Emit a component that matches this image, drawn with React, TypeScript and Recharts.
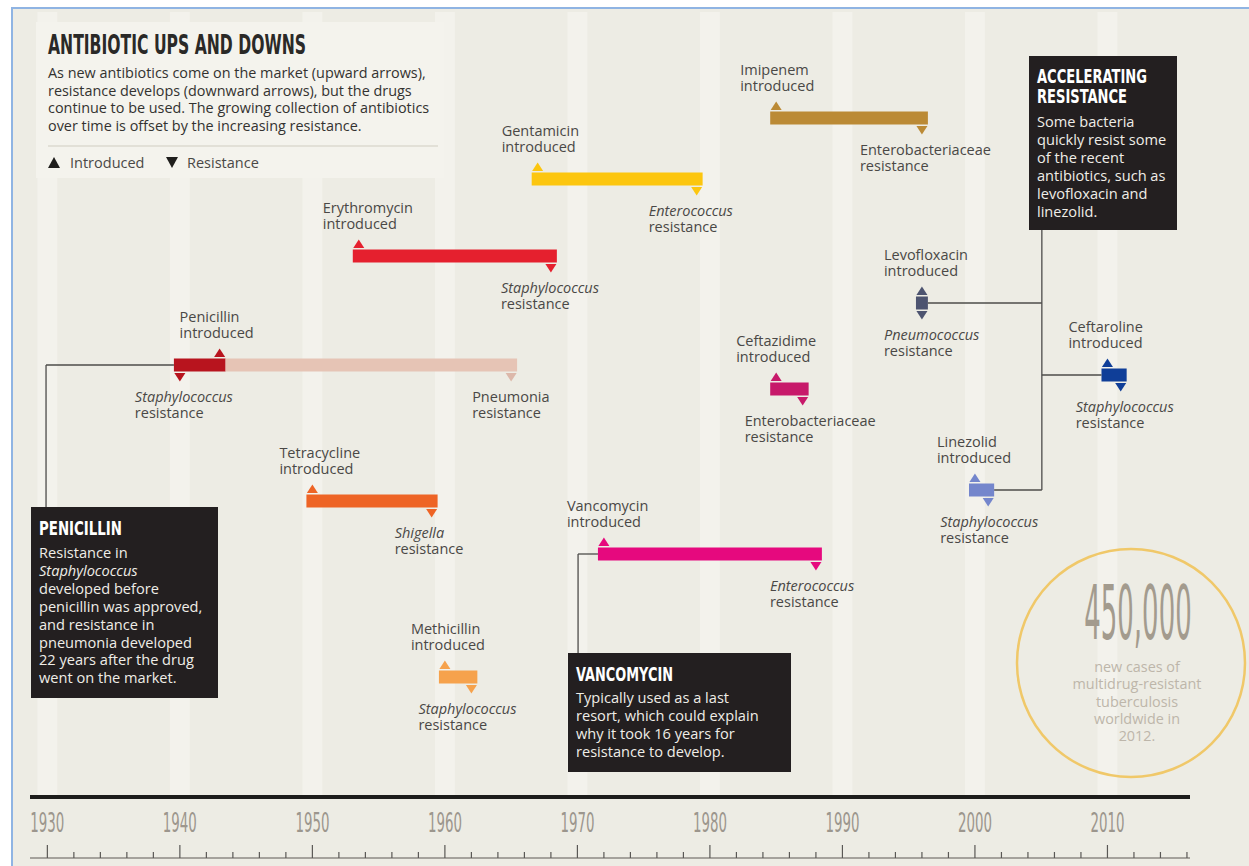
import React from 'react';
import { ComposedChart, XAxis, YAxis, Scatter, ReferenceArea, ReferenceLine } from 'recharts';

// ---- data ----
const DRUGS = ['Penicillin', 'Tetracycline', 'Erythromycin', 'Methicillin', 'Gentamicin', 'Vancomycin', 'Imipenem', 'Ceftazidime', 'Levofloxacin', 'Linezolid', 'Ceftaroline'];
const INTRODUCED = [1943, 1950, 1953.5, 1960, 1967, 1972, 1985, 1985, 1996, 2000, 2010];

const RES_DRUG = ['Penicillin', 'Penicillin', 'Tetracycline', 'Erythromycin', 'Methicillin', 'Gentamicin', 'Vancomycin', 'Imipenem', 'Ceftazidime', 'Levofloxacin', 'Linezolid', 'Ceftaroline'];
const RES_YEAR = [1940, 1965, 1959, 1968, 1962, 1979, 1988, 1996, 1987, 1996, 2001, 2011];
const RES_ORGANISM = ['Staphylococcus', 'Pneumonia', 'Shigella', 'Staphylococcus', 'Staphylococcus', 'Enterococcus', 'Enterococcus', 'Enterobacteriaceae', 'Enterobacteriaceae', 'Pneumococcus', 'Staphylococcus', 'Staphylococcus'];
const ITALIC_ORGANISMS = ['Staphylococcus', 'Shigella', 'Enterococcus', 'Pneumococcus'];

const YEAR_TICKS = [1930, 1932, 1934, 1936, 1938, 1940, 1942, 1944, 1946, 1948, 1950, 1952, 1954, 1956, 1958, 1960, 1962, 1964, 1966, 1968, 1970, 1972, 1974, 1976, 1978, 1980, 1982, 1984, 1986, 1988, 1990, 1992, 1994, 1996, 1998, 2000, 2002, 2004, 2006, 2008, 2010, 2012, 2014, 2016];
const DECADES = [1930, 1940, 1950, 1960, 1970, 1980, 1990, 2000, 2010];
// bits of the next panel peeking out under the ruler
const NEXT_PANEL_TICKS = [1940.05, 1945.1, 1959.2, 1978.1, 1995.2, 2001.3, 2006.3, 2015.7];

const DESCRIPTION = [
  'As new antibiotics come on the market (upward arrows),',
  'resistance develops (downward arrows), but the drugs',
  'continue to be used. The growing collection of antibiotics',
  'over time is offset by the increasing resistance.',
];
const PENICILLIN_NOTE = ['Resistance in', 'Staphylococcus', 'developed before', 'penicillin was approved,', 'and resistance in', 'pneumonia developed', '22 years after the drug', 'went on the market.'];
const VANCOMYCIN_NOTE = ['Typically used as a last', 'resort, which could explain', 'why it took 16 years for', 'resistance to develop.'];
const ACCEL_NOTE = ['Some bacteria', 'quickly resist some', 'of the recent', 'antibiotics, such as', 'levofloxacin and', 'linezolid.'];
const TB_NOTE = ['new cases of', 'multidrug-resistant', 'tuberculosis', 'worldwide in', '2012.'];

// ---- layout & style ----
const W = 1249;
const H = 866;
const PLOT_BOTTOM = 797;
const X_DOMAIN: [number, number] = [1928.69, 2016.23];
const PAD = 0.45;
const BAR_H = 13;
const FONT = '"Open Sans", "DejaVu Sans", sans-serif';
const COND = '"DejaVu Sans Condensed", "DejaVu Sans", sans-serif';
const LABEL = '#4a4846';
const LABEL_SIZE = 14.5;

const COLORS: Record<string, string> = {
  Penicillin: '#b8141e',
  Tetracycline: '#ee6425',
  Erythromycin: '#e5202e',
  Methicillin: '#f6a24c',
  Gentamicin: '#fcc60f',
  Vancomycin: '#e6097e',
  Imipenem: '#bb8a35',
  Ceftazidime: '#c7196a',
  Levofloxacin: '#4d5470',
  Linezolid: '#7486cc',
  Ceftaroline: '#0f3e98',
};
const FADED: Record<string, string> = { Penicillin: '#e6c4b5' };

const LANE: Record<string, number> = {
  Imipenem: 118, Gentamicin: 179, Erythromycin: 256, Levofloxacin: 303, Penicillin: 365, Ceftaroline: 375,
  Ceftazidime: 389, Linezolid: 490, Tetracycline: 501, Vancomycin: 554, Methicillin: 677,
};
const INTRO_DX: Record<string, number> = {
  Penicillin: -40, Tetracycline: -33, Erythromycin: -36, Methicillin: -34, Gentamicin: -36, Vancomycin: -37,
  Imipenem: -36, Ceftazidime: -40, Levofloxacin: -38, Linezolid: -38, Ceftaroline: -39,
};
const RES_DX = [-45, -39, -37, -50, -53, -48, -46, -62, -58, -38, -48, -45];

const introData = DRUGS.map((d, i) => ({ drug: d, year: INTRODUCED[i], lane: LANE[d] }));
const resData = RES_DRUG.map((d, i) => ({
  drug: d,
  year: RES_YEAR[i],
  lane: LANE[d],
  organism: RES_ORGANISM[i],
  dx: RES_DX[i],
  faded: i > 0 && RES_DRUG[i - 1] === d,
}));

const segments = DRUGS.flatMap((d, i) => {
  const res = RES_DRUG.map((r, j) => (r === d ? RES_YEAR[j] : null)).filter((v) => v !== null) as number[];
  const lo = Math.min(INTRODUCED[i], res[0]);
  const hi = Math.max(INTRODUCED[i], res[0]);
  const out = [{ drug: d, x1: lo - PAD, x2: hi + PAD, color: COLORS[d] }];
  if (res.length > 1) out.push({ drug: d, x1: hi + PAD, x2: res[res.length - 1] + PAD, color: FADED[d] });
  return out;
});

// connectors from the note boxes to the bars (x in years, y in lane units)
const CONNECTORS = [
  [{ x: 1929.9, y: 507 }, { x: 1929.9, y: LANE.Penicillin }],
  [{ x: 1929.9, y: LANE.Penicillin }, { x: 1940 - PAD, y: LANE.Penicillin }],
  [{ x: 1970.05, y: 653 }, { x: 1970.05, y: LANE.Vancomycin }],
  [{ x: 1970.05, y: LANE.Vancomycin }, { x: 1972 - PAD, y: LANE.Vancomycin }],
  [{ x: 2005.05, y: 230 }, { x: 2005.05, y: LANE.Linezolid }],
  [{ x: 1996 + PAD, y: LANE.Levofloxacin }, { x: 2005.05, y: LANE.Levofloxacin }],
  [{ x: 2005.05, y: LANE.Ceftaroline }, { x: 2010 - PAD, y: LANE.Ceftaroline }],
  [{ x: 2001 + PAD, y: LANE.Linezolid }, { x: 2005.05, y: LANE.Linezolid }],
];

// one <text> per block, one <tspan> per line
const Lines = ({ x, y, lines, step, italic, ...rest }: any) => (
  <text x={x} y={y} {...rest}>
    {lines.map((l: string, i: number) => (
      <tspan key={i} x={x} dy={i === 0 ? 0 : step} fontStyle={l === italic ? 'italic' : 'normal'}>{l}</tspan>
    ))}
  </text>
);

const IntroMarker = (props: any) => {
  const { cx, cy, payload } = props;
  const top = cy - BAR_H / 2 - 1.5;
  return (
    <g>
      <path d={`M${cx - 5.5},${top} L${cx + 5.5},${top} L${cx},${top - 8.5} Z`} fill={COLORS[payload.drug]} />
      <Lines x={cx + INTRO_DX[payload.drug]} y={cy - 43} step={16} lines={[payload.drug, 'introduced']}
        fontFamily={FONT} fontSize={LABEL_SIZE} fill={LABEL} />
    </g>
  );
};

const ResMarker = (props: any) => {
  const { cx, cy, payload } = props;
  const bot = cy + BAR_H / 2 + 1.5;
  const color = payload.faded ? '#dcb8aa' : COLORS[payload.drug];
  const italic = ITALIC_ORGANISMS.includes(payload.organism) ? payload.organism : undefined;
  return (
    <g>
      <path d={`M${cx - 5.5},${bot} L${cx + 5.5},${bot} L${cx},${bot + 8.5} Z`} fill={color} />
      <Lines x={cx + payload.dx} y={cy + 37} step={16} lines={[payload.organism, 'resistance']} italic={italic}
        fontFamily={FONT} fontSize={LABEL_SIZE} fill={LABEL} />
    </g>
  );
};

const YearTick = (props: any) => {
  const { x, y, payload } = props;
  const v = payload.value;
  const decade = v % 10 === 0;
  return (
    <g>
      {decade && (
        <text x={x} y={y + 35} textAnchor="middle" fontFamily={COND} fontSize={26} fill="#9c968d"
          textLength={34} lengthAdjust="spacingAndGlyphs">{v}</text>
      )}
      <line x1={x} x2={x} y1={y + (decade ? 48 : 55)} y2={y + 61} stroke="#5a5855" strokeWidth={1.2} />
    </g>
  );
};

const NextTick = (props: any) => (
  <line x1={props.x} x2={props.x} y1={props.y} y2={props.y + 9} stroke="#8c8a84" strokeWidth={1.2} />
);

const NoteBox = ({ x, y, w, h, title, lines, italic, titleWidths, titleY, bodyY }: any) => (
  <g>
    <rect x={x} y={y} width={w} height={h} fill="#231f20" />
    {title.map((t: string, i: number) => (
      <text key={t} x={x + 8} y={titleY + i * 20} fontFamily={COND} fontWeight="bold" fontSize={19} fill="#ffffff"
        textLength={titleWidths[i]} lengthAdjust="spacingAndGlyphs">{t}</text>
    ))}
    <Lines x={x + 8} y={bodyY} step={17.9} lines={lines} italic={italic} fontFamily={FONT} fontSize={14.6} fill="#efede7" />
  </g>
);

// static annotations drawn on top of the chart layers
const Annotations = () => (
  <svg width={W} height={H} style={{ position: 'absolute', left: 0, top: 0, pointerEvents: 'none' }}>
    <rect x={36} y={22} width={408} height={156} fill="#f4f3ed" />
    <text x={48} y={54} fontFamily={COND} fontWeight="bold" fontSize={26} fill="#2a2927"
      textLength={258} lengthAdjust="spacingAndGlyphs">ANTIBIOTIC UPS AND DOWNS</text>
    <Lines x={48} y={78} step={17.5} lines={DESCRIPTION} fontFamily={FONT} fontSize={14.4} fill="#333230" />
    <line x1={48} x2={438} y1={146} y2={146} stroke="#e2e0d7" strokeWidth={2} />
    <path d="M48,168 L60,168 L54,157 Z" fill="#1f1e1c" />
    <text x={70} y={168} fontFamily={FONT} fontSize={LABEL_SIZE} fill={LABEL}>Introduced</text>
    <path d="M166,157 L178,157 L172,168 Z" fill="#1f1e1c" />
    <text x={187} y={168} fontFamily={FONT} fontSize={LABEL_SIZE} fill={LABEL}>Resistance</text>

    <NoteBox x={31} y={507} w={187} h={191} title={['PENICILLIN']} titleWidths={[83]} titleY={535}
      lines={PENICILLIN_NOTE} italic="Staphylococcus" bodyY={558} />
    <NoteBox x={568} y={653} w={223} h={119} title={['VANCOMYCIN']} titleWidths={[97]} titleY={681}
      lines={VANCOMYCIN_NOTE} bodyY={703} />
    <NoteBox x={1029} y={56} w={148} h={174} title={['ACCELERATING', 'RESISTANCE']} titleWidths={[110, 90]} titleY={83}
      lines={ACCEL_NOTE} bodyY={127} />

    <circle cx={1131} cy={663} r={114} fill="none" stroke="#f0c869" strokeWidth={2.5} />
    <text transform="translate(1138,639) scale(0.385,1)" textAnchor="middle" fontFamily={COND} fontSize={75}
      fill="#a39b8e">450,000</text>
    <text x={1137} y={672} textAnchor="middle" fontFamily={FONT} fontSize={14.4} fill="#bdb6aa">
      {TB_NOTE.map((l, i) => (
        <tspan key={i} x={1137} dy={i === 0 ? 0 : 17.3}>{l}</tspan>
      ))}
    </text>
  </svg>
);

export default function App() {
  return (
    <div style={{ position: 'absolute', left: 0, top: 0, width: W, height: H, background: '#ffffff' }}>
      <div style={{ position: 'absolute', left: 11, top: 7, right: 0, bottom: 0, background: '#edece4', borderLeft: '2px solid #8fb4e3', borderTop: '2px solid #8fb4e3' }} />
      <div style={{ position: 'absolute', left: 0, top: 0 }}>
        <ComposedChart width={W} height={H} margin={{ top: 0, right: 59, bottom: 0, left: 30 }}>
          <XAxis xAxisId={0} type="number" dataKey="year" domain={X_DOMAIN} allowDataOverflow ticks={YEAR_TICKS}
            interval={0} height={61} tickSize={0} tickMargin={0} tickLine={false}
            axisLine={{ stroke: '#1d1d1b', strokeWidth: 4 }} tick={<YearTick />} />
          <XAxis xAxisId="base" type="number" domain={X_DOMAIN} allowDataOverflow ticks={NEXT_PANEL_TICKS}
            interval={0} height={8} tickSize={0} tickMargin={0} tickLine={false}
            axisLine={{ stroke: '#8c8a84', strokeWidth: 1.5 }} tick={<NextTick />} />
          <YAxis yAxisId={0} type="number" dataKey="lane" domain={[0, PLOT_BOTTOM]} reversed hide allowDataOverflow />

          {DECADES.map((d) => (
            <ReferenceArea key={`s${d}`} x1={d - 0.75} x2={d + 0.75} y1={12} y2={PLOT_BOTTOM - 2}
              fill="#f3f2ec" fillOpacity={1} stroke="none" ifOverflow="visible" />
          ))}

          {CONNECTORS.map((seg, i) => (
            <ReferenceLine key={`c${i}`} segment={seg} stroke="#4d4c4a" strokeWidth={1.3} ifOverflow="visible" />
          ))}

          {segments.map((s, i) => (
            <ReferenceArea key={`b${i}`} x1={s.x1} x2={s.x2} y1={LANE[s.drug] - BAR_H / 2} y2={LANE[s.drug] + BAR_H / 2}
              fill={s.color} fillOpacity={1} stroke="none" ifOverflow="visible" />
          ))}

          <Scatter data={introData} dataKey="lane" shape={<IntroMarker />} isAnimationActive={false} />
          <Scatter data={resData} dataKey="lane" shape={<ResMarker />} isAnimationActive={false} />
        </ComposedChart>
      </div>
      <Annotations />
    </div>
  );
}
